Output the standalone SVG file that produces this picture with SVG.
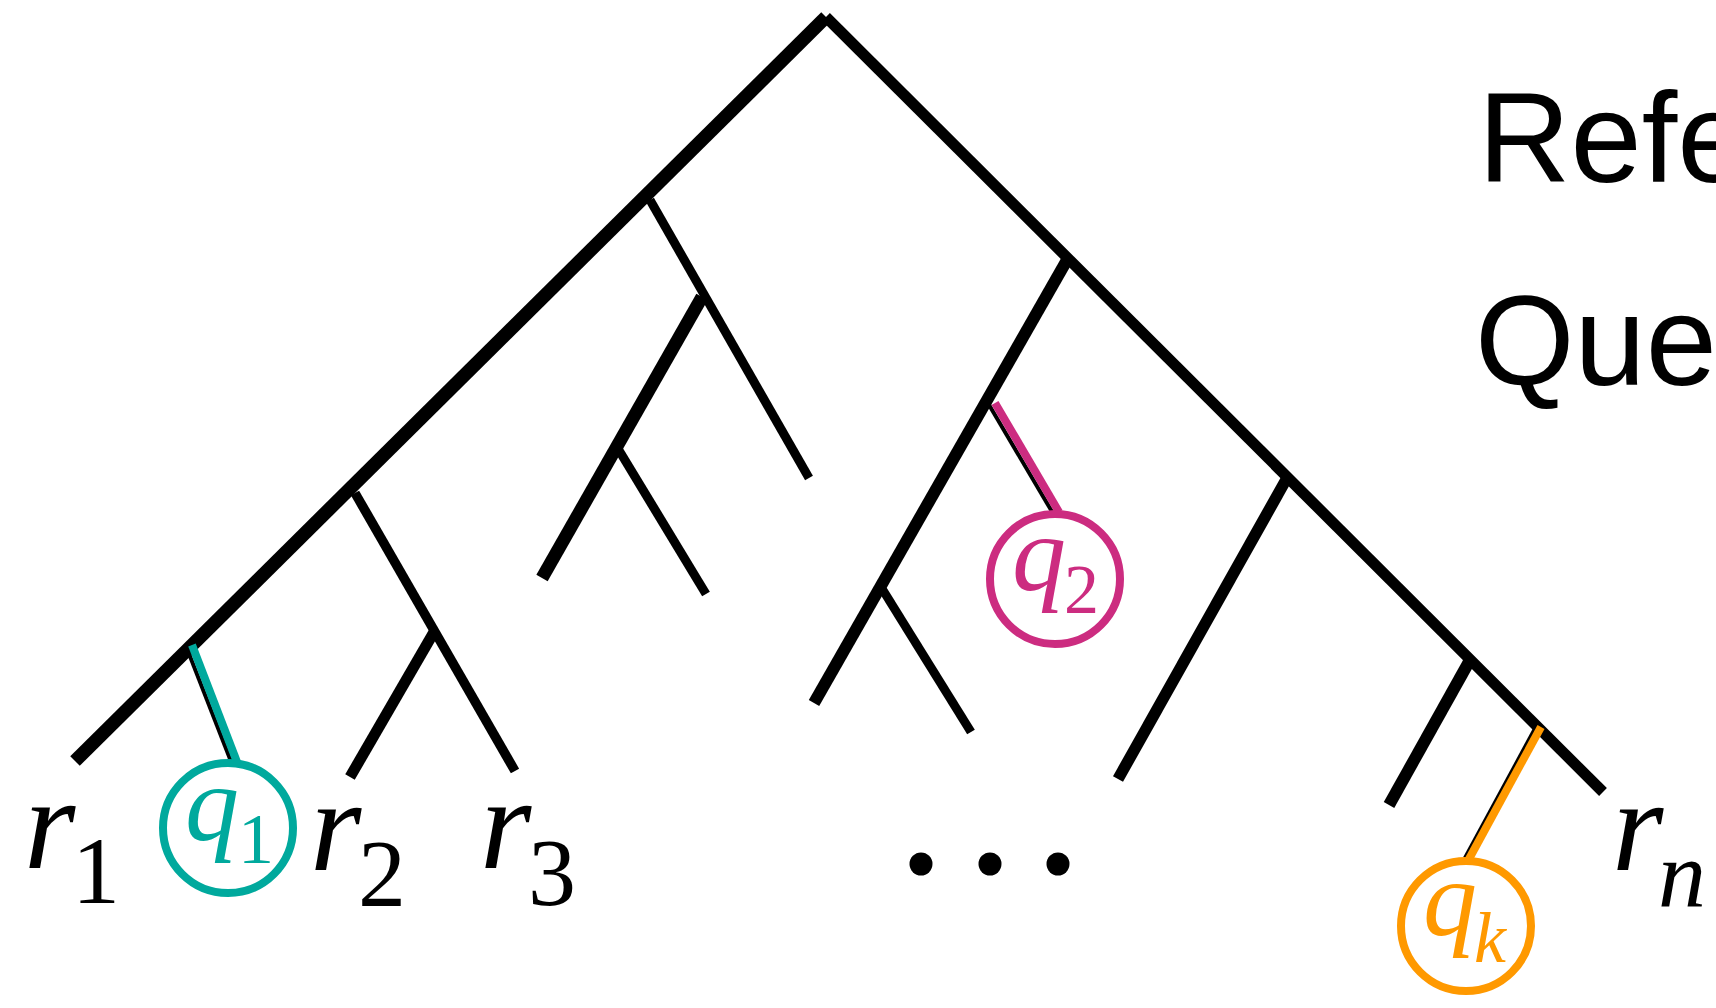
<svg xmlns="http://www.w3.org/2000/svg" width="1716" height="1008" viewBox="0 0 1716 1008">
<style>
.br{stroke:#000;fill:none;stroke-linecap:butt}
.thin{stroke:#000;stroke-width:4;fill:none}
.q{fill:#fff;stroke-width:8}
.lab{font-family:"Liberation Serif","Times New Roman",serif;font-style:italic}
.up{font-style:normal}
.leg{font-family:"Liberation Sans",Arial,sans-serif;font-size:128px;fill:#000}
</style>
<rect width="1716" height="1008" fill="#fff"/>
<g id="connectors">
<line class="br" x1="826" y1="17" x2="75" y2="761" stroke-width="13.5"/>
<line class="br" x1="826" y1="17" x2="1603" y2="792" stroke-width="11"/>
<line class="br" x1="650" y1="200" x2="809" y2="478" stroke-width="9"/>
<line class="br" x1="702" y1="297" x2="542" y2="578" stroke-width="13"/>
<line class="br" x1="617" y1="447" x2="706" y2="594" stroke-width="9"/>
<line class="br" x1="355" y1="493" x2="515" y2="771" stroke-width="9.5"/>
<line class="br" x1="434" y1="632" x2="350" y2="777" stroke-width="11"/>
<line class="br" x1="1067" y1="260" x2="814" y2="703" stroke-width="12"/>
<line class="br" x1="881" y1="587" x2="971" y2="732" stroke-width="9"/>
<line class="br" x1="1287" y1="478" x2="1118" y2="779" stroke-width="11.5"/>
<line class="br" x1="1470" y1="660" x2="1389" y2="805" stroke-width="12"/>
<line class="thin" x1="186" y1="646" x2="232" y2="764"/>
<line x1="192" y1="645" x2="237" y2="762" stroke="#00A99D" stroke-width="8"/>
<line class="thin" x1="985" y1="398" x2="1054" y2="515"/>
<line x1="995" y1="403" x2="1059" y2="512" stroke="#CC2C80" stroke-width="8"/>
<line class="thin" x1="1537" y1="725" x2="1465" y2="858"/>
<line x1="1541" y1="727" x2="1469" y2="859" stroke="#FF9900" stroke-width="8"/>
</g>
<g id="q1">
<circle class="q" cx="228" cy="828" r="65" stroke="#00A99D"/>
<text class="lab" fill="#00A99D"><tspan x="185" y="840" font-size="108">q</tspan><tspan class="up" x="238" y="863" font-size="72">1</tspan></text>
</g>
<g id="q2">
<circle class="q" cx="1055" cy="579" r="65" stroke="#CC2C80"/>
<text class="lab" fill="#CC2C80"><tspan x="1012" y="590" font-size="108">q</tspan><tspan class="up" x="1064" y="613" font-size="70">2</tspan></text>
</g>
<g id="qk">
<circle class="q" cx="1466" cy="926" r="65" stroke="#FF9900"/>
<text class="lab" fill="#FF9900"><tspan x="1423" y="935" font-size="108">q</tspan><tspan x="1474" y="962" font-size="72">k</tspan></text>
</g>
<g id="r1">
<text class="lab"><tspan x="24" y="868" font-size="132">r</tspan><tspan class="up" x="72" y="903" font-size="96">1</tspan></text>
</g>
<g id="r2">
<text class="lab"><tspan x="310" y="870" font-size="132">r</tspan><tspan class="up" x="358" y="906" font-size="96">2</tspan></text>
</g>
<g id="r3">
<text class="lab"><tspan x="480" y="868" font-size="132">r</tspan><tspan class="up" x="528" y="905" font-size="96">3</tspan></text>
</g>
<g id="rn">
<text class="lab"><tspan x="1612" y="870" font-size="132">r</tspan><tspan x="1658" y="907" font-size="96">n</tspan></text>
</g>
<g id="dots">
<circle cx="921" cy="864" r="11.5"/>
<circle cx="990" cy="864" r="11.5"/>
<circle cx="1058" cy="864" r="11.5"/>
</g>
<g id="legend">
<text class="leg" x="1478" y="182">Refe</text>
<text class="leg" x="1475" y="385">Que</text>
</g>
</svg>
